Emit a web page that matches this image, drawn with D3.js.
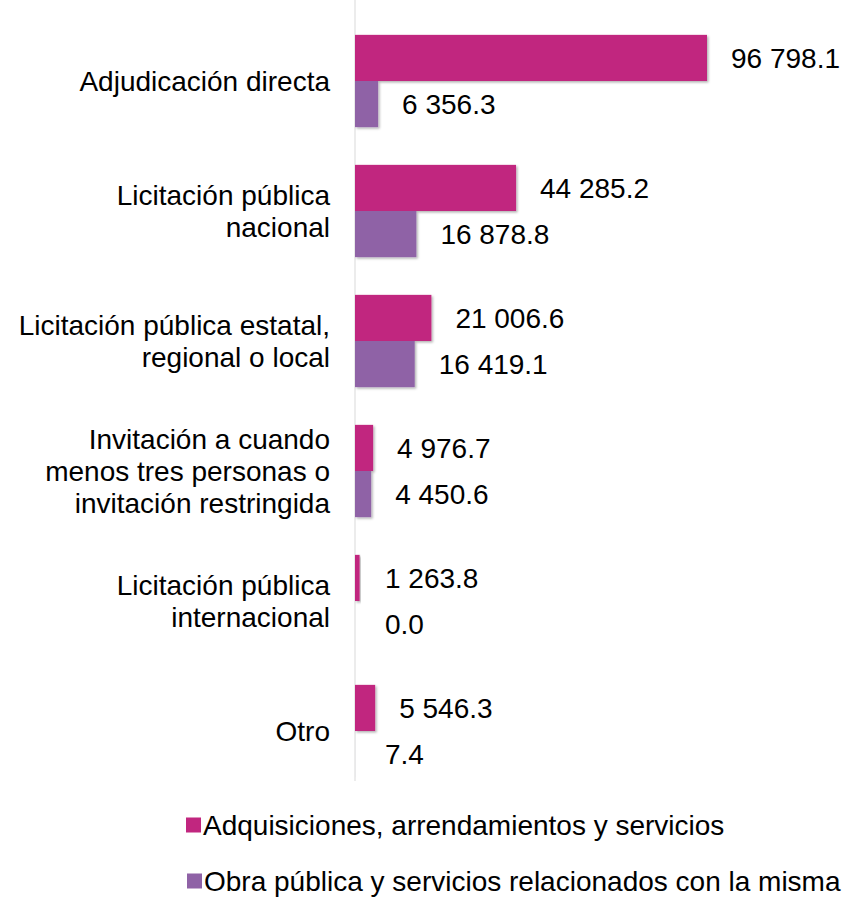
<!DOCTYPE html>
<html><head><meta charset="utf-8">
<script src="https://cdn.jsdelivr.net/npm/d3@7"></script>
<style>body{margin:0;background:#fff}svg{display:block}text{font-family:"Liberation Sans",Arial,sans-serif;fill:#000}</style>
</head><body>
<script>
const categories = [
  ["Adjudicación directa"],
  ["Licitación pública", "nacional"],
  ["Licitación pública estatal,", "regional o local"],
  ["Invitación a cuando", "menos tres personas o", "invitación restringida"],
  ["Licitación pública", "internacional"],
  ["Otro"]
];
const seriesNames = ["Adquisiciones, arrendamientos y servicios", "Obra pública y servicios relacionados con la misma"];
const adquisiciones = [96798.1, 44285.2, 21006.6, 4976.7, 1263.8, 5546.3];
const obraPublica = [6356.3, 16878.8, 16419.1, 4450.6, 0.0, 7.4];
const colors = ["#C1267F", "#8F62A6"];

const W = 846, H = 898;
const x0 = 355;
const FS = 28;
const svg = d3.select("body").append("svg").attr("width", W).attr("height", H);
const defs = svg.append("defs");
const f = defs.append("filter").attr("id","sh").attr("x","-10%").attr("y","-10%").attr("width","130%").attr("height","140%");
f.append("feDropShadow").attr("dx",1.5).attr("dy",1.5).attr("stdDeviation",1.2).attr("flood-color","#000").attr("flood-opacity",0.3);

const y = d3.scaleBand().domain(d3.range(categories.length)).range([16, 796]).paddingInner(0.29).paddingOuter(0.145);
const x = d3.scaleLinear().domain([0, 96798.1]).range([x0, 707]);
const sub = d3.scaleBand().domain([0,1]).range([0, y.bandwidth()]);

svg.append("line").attr("x1", x0).attr("x2", x0).attr("y1", 0).attr("y2", 781).attr("stroke", "#d9d9d9").attr("stroke-width", 1);

const fmt = v => d3.format(",.1f")(v).replace(/,/g, " ");
const series = [adquisiciones, obraPublica];
series.forEach((vals, si) => {
  const g = svg.append("g");
  vals.forEach((v, i) => {
    const yy = y(i) + sub(si);
    if (v > 0) {
      g.append("rect").attr("x", x0).attr("y", yy).attr("width", Math.max(0, x(v) - x0)).attr("height", sub.bandwidth())
        .attr("fill", colors[si]).attr("filter", "url(#sh)");
    }
    g.append("text").attr("x", Math.max(x(v) + 24, 385)).attr("y", yy + sub.bandwidth()/2).attr("dy", "0.35em")
      .attr("font-size", FS).text(fmt(v));
  });
});

categories.forEach((lines, i) => {
  const cy = y(i) + y.bandwidth()/2;
  const lh = 32;
  const t = svg.append("text").attr("text-anchor", "end").attr("font-size", FS);
  lines.forEach((l, j) => {
    t.append("tspan").attr("x", 330).attr("y", cy + (j - (lines.length-1)/2) * lh).attr("dy", "0.35em").text(l);
  });
});

const leg = svg.append("g");
const legX = [186, 187], legTX = [203, 204], legY = [825, 881];
seriesNames.forEach((n, i) => {
  leg.append("rect").attr("x", legX[i]).attr("y", legY[i] - 7.5).attr("width", 15).attr("height", 15).attr("fill", colors[i]);
  leg.append("text").attr("x", legTX[i]).attr("y", legY[i]).attr("dy", "0.35em").attr("font-size", FS).text(n);
});
</script>
</body></html>
